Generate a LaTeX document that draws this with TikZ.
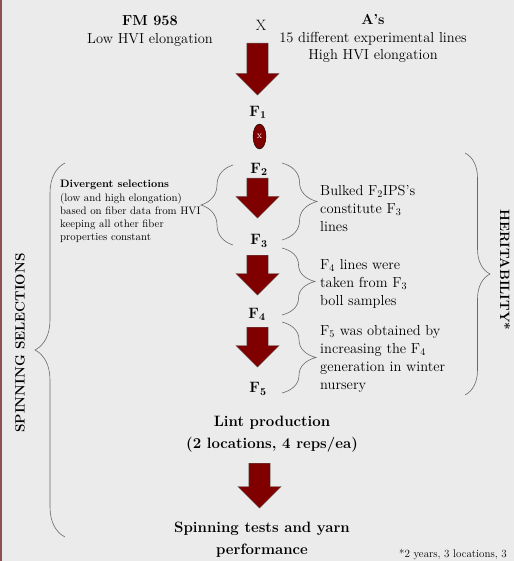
\documentclass[tikz,border=0pt]{standalone}
\usepackage{tikz}
\usetikzlibrary{shapes.geometric, shapes.arrows, decorations.pathreplacing, positioning}
\definecolor{arrowred}{RGB}{128,0,0}
\definecolor{slidegray}{RGB}{235,235,235}
\definecolor{bracegray}{RGB}{105,105,105}
\definecolor{edgered}{RGB}{140,80,85}

\begin{document}
\begin{tikzpicture}[
  x=1pt, y=-1pt,
  gen/.style={font=\fontsize{15}{17}\selectfont\bfseries, inner sep=0pt},
  parent/.style={align=center, inner sep=0pt, font=\fontsize{14.5}{17.5}\selectfont},
  note/.style={align=left, anchor=west, inner sep=0pt, font=\fontsize{14.5}{18}\selectfont},
  divnote/.style={align=left, anchor=west, inner sep=0pt, font=\fontsize{10.8}{13.2}\selectfont},
  stage/.style={align=center, inner sep=0pt, font=\fontsize{15}{21.5}\selectfont\bfseries},
  sidelabel/.style={inner sep=0pt, font=\fontsize{13.5}{16}\selectfont\bfseries},
  bigarr/.style={single arrow, rotate=-90, anchor=tail, draw=black!60, line width=0.4pt,
                 fill=arrowred, minimum width=43pt, single arrow head extend=11pt,
                 inner xsep=0pt, inner ysep=10.5pt, minimum height=#1},
  brc/.style={decorate, decoration={brace, amplitude=#1}, draw=bracegray, line width=0.6pt},
]
% slide background
\fill[slidegray] (0,0) rectangle (514,561);
\fill[edgered] (0,0) rectangle (2,561);

% parents
\node[parent] (fm)    at (150,31)   {\textbf{FM 958}\\Low HVI elongation};
\node[font=\fontsize{15}{15}\selectfont, inner sep=0pt] (cross) at (261,25) {X};
\node[parent] (as)    at (373,38.5) {\textbf{A's}\\15 different experimental lines\\High HVI elongation};

% generations
\node[bigarr=52pt] (arr1) at (257.5,43) {};
\node[gen] (f1) at (258,112) {F\textsubscript{1}};
\node[ellipse, draw=black, line width=0.4pt, fill=arrowred, minimum width=13pt,
      minimum height=25pt, inner sep=0pt, text=white,
      font=\fontsize{10}{10}\selectfont] (self) at (259.5,136.5) {x};
\node[gen] (f2) at (259,169) {F\textsubscript{2}};
\node[bigarr=40pt] (arr2) at (257.5,178) {};
\node[gen] (f3) at (259,241) {F\textsubscript{3}};
\node[bigarr=40pt] (arr3) at (257.5,255) {};
\node[gen] (f4) at (257,314) {F\textsubscript{4}};
\node[bigarr=40pt] (arr4) at (257.5,327) {};
\node[gen] (f5) at (258,389) {F\textsubscript{5}};

% field and mill
\node[stage] (lint) at (272,434) {Lint production\\(2 locations, 4 reps/ea)};
\node[bigarr=45pt] (arr5) at (259.5,463) {};
\node[stage] (spin) at (262,539.5) {Spinning tests and yarn\\performance};

% notes
\node[divnote] (div) at (60,211.5) {\textbf{Divergent selections}\\(low and high elongation)\\based on fiber data from HVI\\keeping all other fiber\\properties constant};
\node[note] (bulk) at (320,208) {Bulked F\textsubscript{2}IPS's\\constitute F\textsubscript{3}\\lines};
\node[note] (boll) at (320,283.5) {F\textsubscript{4} lines were\\taken from F\textsubscript{3}\\boll samples};
\node[note] (nurs) at (320,358.5) {F\textsubscript{5} was obtained by\\increasing the F\textsubscript{4}\\generation in winter\\nursery};

% braces
\draw[brc=32pt] (233,245) -- (233,165);
\draw[brc=35pt] (282,163) -- (282,240);
\draw[brc=33pt] (282,248) -- (282,315);
\draw[brc=34pt] (282,322) -- (282,393);
\draw[brc=30pt] (65,537) -- (65,163);
\draw[brc=25pt] (465,153) -- (465,395);

% side labels
\node[sidelabel, rotate=90]  (sel)   at (20,343)  {SPINNING SELECTIONS};
\node[sidelabel, rotate=-90] (herit) at (505,270) {HERITABILITY*};
\node[anchor=base west, inner sep=0pt, font=\fontsize{11}{11}\selectfont] (foot) at (399,557) {*2 years, 3 locations, 3};
\end{tikzpicture}
\end{document}
